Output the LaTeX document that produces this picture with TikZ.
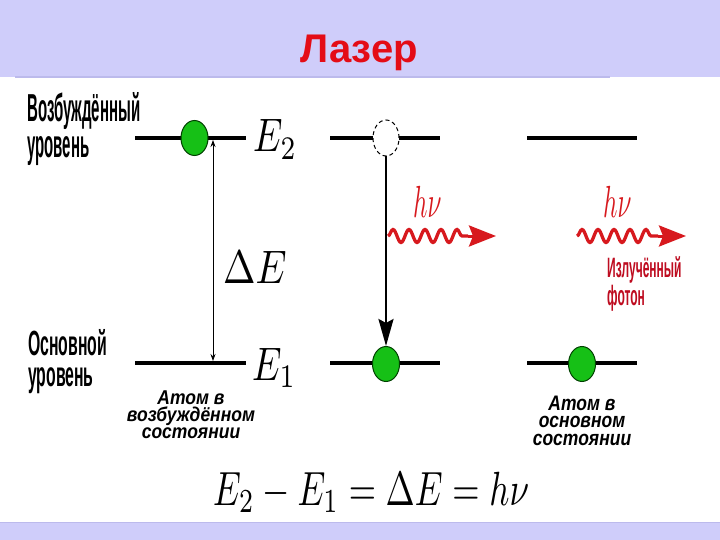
\documentclass[tikz,border=0pt]{standalone}
\usepackage{graphicx}
\usepackage{fontspec}
\setmainfont{Liberation Sans}
\usetikzlibrary{decorations.pathmorphing,arrows.meta,shapes.geometric}
\definecolor{lav}{RGB}{207,205,250}
\definecolor{lavdark}{RGB}{188,186,236}
\definecolor{titlered}{RGB}{228,12,22}
\definecolor{wavered}{RGB}{215,25,30}
\definecolor{textred}{RGB}{190,12,32}
\definecolor{ballgreen}{RGB}{22,192,22}
\newcommand\sq[3]{\scalebox{#1}[#2]{#3}}
\newcommand\stackL[3]{\parbox[t]{#1}{\raggedright\fontsize{10}{#2}\selectfont #3}}
\newcommand\stackC[3]{\parbox[t]{#1}{\centering\fontsize{10}{#2}\selectfont #3}}
\begin{document}
\begin{tikzpicture}[x=1pt,y=-1pt,
  level/.style={line width=4pt},
  ball/.style={ellipse, draw=black!75!green, line width=1pt, fill=ballgreen,
    minimum width=27pt, minimum height=35pt, inner sep=0},
  ghost/.style={ellipse, draw, dash pattern=on 4pt off 3pt, line width=1pt, fill=white,
    minimum width=26pt, minimum height=36pt, inner sep=0},
  txt/.style={inner sep=0, anchor=base west},
  ctxt/.style={inner sep=0, anchor=base},
  wave/.style={wavered, line width=3.3pt, decorate,
    decoration={snake, amplitude=6.5pt, segment length=16pt}},
  photon/.style={wavered, line width=3pt, -{Stealth[length=27pt,width=21pt,inset=4pt]}}]
\useasboundingbox (0,0) rectangle (720,540);
\fill[white] (0,0) rectangle (720,540);
% bands
\fill[lav] (0,0) rectangle (720,77);
\draw[lavdark, line width=1.5pt] (15,77) -- (610,77);
\fill[lav] (0,522) rectangle (720,540);
\draw[lavdark, line width=1pt] (0,522.5) -- (720,522.5);
% title
\node[ctxt, text=titlered] (title) at (359,63) {\fontsize{40}{40}\selectfont\bfseries Лазер};
% left labels
\node[txt] (up) at (27,122) {\sq{1.5}{3.9}{\stackL{100pt}{9.23}{\bfseries Возбуждённый\\уровень}}};
\node[txt] (lo) at (28,355) {\sq{1.58}{3.5}{\stackL{100pt}{9.14}{\bfseries Основной\\уровень}}};
% levels
\draw[level] (135,138) -- (246,138);
\draw[level] (135,363) -- (246,363);
\draw[level] (330,138) -- (440,138);
\draw[level] (330,363) -- (440,363);
\draw[level] (527,138) -- (637,138);
\draw[level] (527,363) -- (637,363);
% column 1
\coordinate (dTop) at (213,140);
\coordinate (dBot) at (213,361);
\draw[line width=0.8pt, {Stealth[length=7pt,width=5pt]}-{Stealth[length=7pt,width=5pt]}] (dTop) -- (dBot);
\node[ball] (b1) at (194.5,138) {};
\node[txt] (E2) at (253,152) {\sq{3.7}{4.7}{$E_2$}};
\node[txt] (E1) at (252,380) {\sq{3.7}{4.7}{$E_1$}};
\node[txt] (dE) at (223,283) {\sq{3.9}{4.7}{$\Delta E$}};
% column 2
\node[ghost] (g2) at (386,138) {};
\node[ball] (b2) at (386,364) {};
\draw[line width=2.5pt, -{Stealth[length=27pt,width=15pt,inset=4pt]}] (g2.south) -- (b2.north);
\coordinate (w2s) at (388,236);
\coordinate (w2m) at (468,236);
\coordinate (w2e) at (496,236);
\draw[wave] (w2s) -- (w2m);
\draw[photon] (w2m) -- (w2e);
\node[txt, text=wavered] (hv2) at (413,218) {\sq{2.5}{4.5}{$h\nu$}};
% column 3
\node[ball] (b3) at (582,364) {};
\coordinate (w3s) at (577,236);
\coordinate (w3m) at (658,236);
\coordinate (w3e) at (686,236);
\draw[wave] (w3s) -- (w3m);
\draw[photon] (w3m) -- (w3e);
\node[txt, text=wavered] (hv3) at (603,218) {\sq{2.5}{4.5}{$h\nu$}};
\node[txt, text=textred] (em) at (607,277) {\sq{1.2}{2.8}{\stackL{80pt}{8.93}{\bfseries Излучённый\\фотон}}};
% bottom captions
\node[ctxt] (c1) at (191,404) {\sq{1.75}{2.0}{\stackC{90pt}{8.5}{\bfseries\itshape Атом в\\возбуждённом\\состоянии}}};
\node[ctxt] (c3) at (582,410) {\sq{1.75}{2.1}{\stackC{90pt}{8.57}{\bfseries\itshape Атом в\\основном\\состоянии}}};
% equation
\node[txt] (eq) at (213,505) {\sq{3.5}{4.8}{$E_2-E_1=\Delta E=h\nu$}};
\end{tikzpicture}
\end{document}
